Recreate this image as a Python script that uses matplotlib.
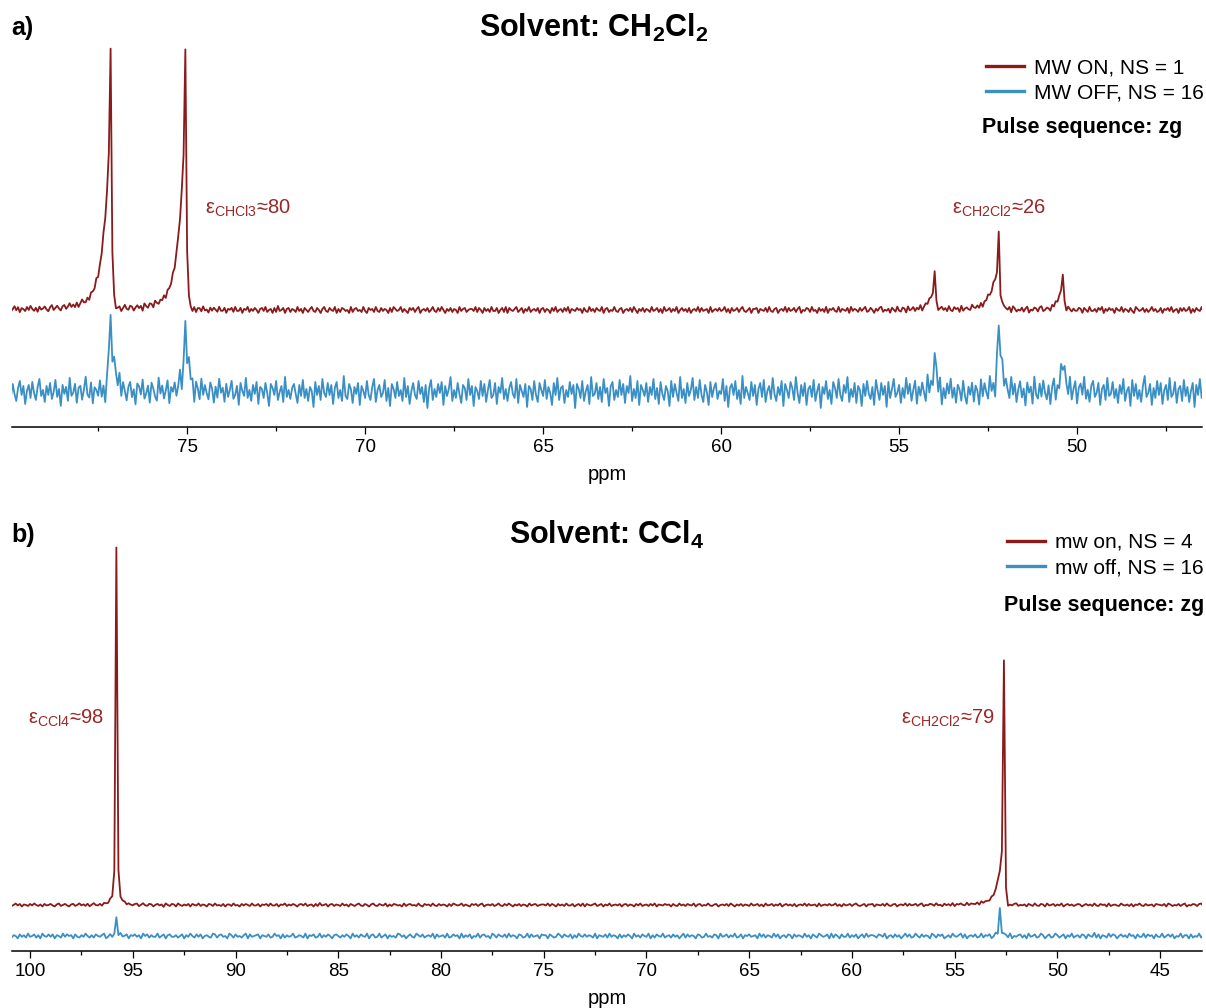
import numpy as np
import matplotlib
matplotlib.use("Agg")
import matplotlib.pyplot as plt
from matplotlib.ticker import MultipleLocator
from matplotlib.lines import Line2D

plt.rcParams['font.family'] = ['Liberation Sans', 'DejaVu Sans']
plt.rcParams['mathtext.default'] = 'regular'

RED = '#8b1a1a'
BLUE = '#3a8fc5'
LABEL_RED = '#9a2828'

# ---------------- spectral data ----------------
# digital resolution (ppm per point) and first point of each acquisition
step_a, start_a = 0.05, 80.0
step_b, start_b = 0.10, 101.0

# (a) CH2Cl2, MW ON: centre (ppm), height (a.u.), left / right half-widths (ppm)
red_a_centers = [77.15, 77.22, 77.00, 75.05, 75.12, 74.90, 54.00, 54.08, 52.20, 52.28, 50.40, 50.48]
red_a_heights = [240, 95, -7, 240, 95, -6, 34, 12, 70, 26, 34, 12]
red_a_wl = [0.035, 0.20, 0.06, 0.035, 0.20, 0.06, 0.03, 0.12, 0.03, 0.20, 0.03, 0.12]
red_a_wr = [0.025, 0.04, 0.10, 0.025, 0.04, 0.10, 0.025, 0.04, 0.025, 0.05, 0.025, 0.04]

# (a) CH2Cl2, MW OFF
blue_a_centers = [77.15, 77.05, 75.05, 74.95, 54.00, 52.20, 52.10, 50.40]
blue_a_heights = [75, 20, 72, 15, 38, 70, 12, 38]
blue_a_wl = [0.04, 0.05, 0.04, 0.05, 0.04, 0.04, 0.05, 0.05]
blue_a_wr = [0.04, 0.08, 0.04, 0.08, 0.04, 0.04, 0.08, 0.05]

# (b) CCl4, mw on
red_b_centers = [95.80, 95.80, 52.60, 52.70, 52.45]
red_b_heights = [350, 8, 238, 35, -6]
red_b_wl = [0.03, 0.12, 0.03, 0.25, 0.08]
red_b_wr = [0.03, 0.12, 0.03, 0.05, 0.15]

# (b) CCl4, mw off
blue_b_centers = [95.80, 52.80]
blue_b_heights = [18, 28]
blue_b_wl = [0.04, 0.04]
blue_b_wr = [0.04, 0.04]

# baseline noise of the MW-OFF CH2Cl2 acquisition (a.u.)
noise_blue_a = np.array([
    3, -5, 8, -2, -9, 4, 11, -3, 6, -12, 1, 7, -6, 10, -1, -8, 5, 13, -4, 2,
    -10, 6, -3, 9, -7, 0, 12, -5, 3, -14, 7, -2, 5, -9, 14, -4, -1, 8, -11, 4,
    6, -8, 2, 15, -3, -6, 9, -12, 4, 1, -5, 10, -7, 3, -16, 6, 11, -2, -9, 5,
    0, -4, 13, -8, 7, -1, -10, 4, 9, -6, 2, -13, 8, 5, -3, 12, -7, -2, 6, -11,
    9, 3, -5, -9, 14, -2, 6, -7, 1, 11, -12, 4, -1, 8, -6, 3, 17, -8, 2, -4,
    -7, 10, -3, 5, -15, 7, 1, -9, 12, -4, 6, -2, -8, 9, 3, -11, 5, -6, 13, -1,
    4, -10, 8, -5, 2, 11, -7, -3, 6, -13, 9, 1, -4, 14, -6, 2, -9, 7, -2, 10,
    -12, 5, 3, -6, 9, -1, -14, 8, 4, -3, 11, -8, 0, 6, -10, 15, -5, 2, -7, 4,
    8, -2, -11, 7, -4, 12, -6, 3, -9, 5, 1, -15, 10, -3, 6, -8, 13, -1, -5, 9,
    -3, 7, -12, 4, 10, -6, 2, -9, 16, -4, -7, 8, 3, -11, 5, -2, 9, -13, 6, 1,
    -6, 11, -3, -8, 5, 13, -10, 2, 7, -5, -1, 12, -9, 4, -14, 8, 3, -6, 10, -4,
    2, -9, 14, -5, 6, -12, 1, 9, -3, -7, 11, -2, 5, -10, 7, -16, 4, 12, -8, 3,
    -5, 8, -1, 10, -13, 6, -4, 3, 15, -9, 2, -6, 9, -2, -11, 7, 4, -8, 13, -3,
    6, -14, 5, 1, -7, 11, -4, 8, -10, 2, 12, -6, -3, 9, -12, 5, -1, 14, -7, 3,
    -9, 4, 10, -2, -6, 13, -11, 7, 1, -5, 8, -15, 6, 3, -8, 11, -3, -10, 9, 2,
    -4, 12, -7, 5, -1, -13, 9, -3, 14, -8, 4, 6, -11, 2, -5, 10, -2, 7, -16, 8,
    3, -6, 11, -9, 1, 7, -12, 15, -4, -2, 9, -7, 5, -10, 13, -1, 4, -14, 6, 10,
    -8, 2, -5, 12, -3, 8, -11, 6, -1, 16, -9, 3, -6, 11, -13, 7, 2, -4, 9, -10,
    5, -3, 13, -7, 4, -12, 10, -2, -8, 6, 1, -14, 11, -5, 8, -1, -9, 15, -6, 3,
    -11, 9, -4, 2, 14, -8, 5, -6, 12, -3, -10, 7, 0, -13, 10, -5, 4, 9, -7, 1,
    -2, 13, -9, 6, -15, 4, 8, -3, 11, -7, 2, -12, 16, -6, 5, -1, -8, 10, -4, 7,
    -13, 3, 9, -5, 12, -10, 1, 6, -7, 14, -2, -9, 5, -3, 11, -14, 8, 2, -6, 10,
    4, -8, 15, -1, -11, 7, -4, 9, -13, 3, 6, -5, 12, -9, 1, 8, -16, 5, -2, 11,
    -7, 2, -12, 10, 4, -6, 13, -3, -9, 7, -1, 15, -10, 3, -5, 9, -11, 6, 2, -14,
    8, -4, 11, -2, -7, 5, -13, 12, 1, -8, 9, -3, 6, -15, 10, -6, 3, 13, -5, -1,
    7, -11, 4, -6, 14, -2, 8, -9, 2, 11, -12, 5, -4, 9, -1, -10, 16, -3, 6, -8,
    1, 10, -5, 12, -14, 3, -7, 8, -2, 13, -6, 4, -11, 7, 2, -9, 11, -4, -12, 5,
    -3, 9, -10, 6, 1, -13, 12, -5, 8, -1, -8, 14, -2, 4, -15, 10, -6, 3, 11, -7,
    6, -2, -9, 13, -4, 7, -11, 2, 10, -6, 3, -14, 9, -1, 5, -12, 15, -3, -7, 8,
    -5, 11, -1, -8, 6, -13, 4, 12, -10, 3, -4, 9, -16, 7, 1, -6, 13, -9, 2, 10,
    -12, 4, 8, -3, 15, -7, 2, -10, 6, 11, -5, -1, 9, -13, 3, 7, -8, 14, -4, -2,
    10, -6, 3, -11, 7, -2, 13, -9, 1, 5, -14, 12, -4, 8, -7, 2, -10, 6, 16, -5,
    -1, 8, -13, 4, -6, 11, -3, 9, -12, 2, 7, -8, 14, -5, -2, 10, -11, 3, 6, -9,
    12, -4, 5, -10, 1, 9, -15, 7, -3, 13, -6, 2, -9, 11, -1, -7, 4, 15, -12, 6,
], dtype=float)

# low-level baseline noise of the MW-ON / CCl4 acquisitions (a.u.)
noise_fine = np.array([
    1, -2, 0, 3, -1, 2, -3, 1, 0, -2, 2, -1, 3, 0, -2, 1, -3, 2, -1, 0,
    2, -1, -3, 1, 3, -2, 0, 2, -1, -3, 1, 2, -2, 0, 3, -1, 1, -2, 2, -3,
    0, 3, -1, -2, 1, -3, 2, 0, -1, 4, -2, 1, -1, 3, -3, 0, 2, -2, 1, -1,
    -2, 1, 2, -3, 0, 3, -1, -2, 2, 1, -3, 0, 2, -1, 1, -4, 3, 0, -2, 2,
    1, -3, 3, 0, -2, 1, -1, 2, -3, 2, 0, -1, 3, -2, 1, 0, -3, 2, 1, -2,
    3, -1, 0, -2, 2, -3, 1, 1, -2, 3, -1, 0, -3, 2, -1, 2, 0, -2, 3, -1,
    -1, 2, -3, 1, 0, 2, -2, 3, -1, -1, 2, -3, 1, 0, 3, -2, 1, -1, 2, 0,
    -3, 1, 2, -1, 3, -2, 0, 1, -3, 2, -2, 4, -1, 0, 2, -3, 1, 2, -2, 1,
    0, -2, 3, -1, 1, -3, 2, 0, -2, 1, 3, -1, -2, 2, 0, -3, 1, 3, -1, -2,
    2, 0, -1, 3, -3, 1, -2, 2, 1, -1, 0, -3, 3, -2, 1, 2, -1, 0, -2, 3,
    -1, -3, 2, 0, 1, -2, 3, -1, -2, 2, -1, 1, 0, -3, 2, -2, 3, 1, -1, 0,
    3, -2, 1, -1, -3, 2, 0, 2, -2, 1, 3, -3, 0, 1, -1, 2, -2, 0, 3, -1,
    -2, 2, -1, 3, 0, -3, 1, -1, 2, -2, 1, 0, -3, 3, -1, 1, 2, -2, 0, 1,
    1, -1, 3, -2, 2, 0, -3, 2, -1, 1, -2, 3, -1, -1, 2, -3, 0, 2, -2, 3,
    -3, 2, 0, -1, 1, 3, -2, 0, 2, -3, 1, -1, 3, -2, 0, 1, -1, 2, -3, 1,
    2, -2, 1, 0, -3, 2, -1, 3, -2, 0, 1, -2, 2, -1, 3, -3, 1, 0, -1, 2,
    0, 1, -3, 2, -1, -2, 3, -1, 1, -2, 2, 0, -1, 3, -3, 1, 2, -2, 0, -1,
    3, -1, -2, 1, 2, -3, 0, 1, -1, 2, -2, 3, 0, -3, 1, -1, 2, -2, 1, 0,
    -2, 3, -1, 0, 2, -2, 1, -3, 3, -1, 0, 2, -2, 1, -1, 3, -3, 0, 2, -1,
    1, -2, 2, -3, 0, 1, -1, 3, -2, 2, -1, 0, 1, -3, 3, -2, 0, 1, -1, 2,
    -1, 0, 3, -2, 1, -3, 2, -1, 0, 2, -2, 1, 3, -1, -2, 0, 2, -3, 1, 1,
    2, -3, 1, 0, -1, 2, -2, 3, -1, -2, 1, 2, -3, 0, 1, -1, 3, -2, 2, -1,
    0, 2, -2, 1, 3, -3, 0, -1, 2, 1, -2, 3, -1, 0, -3, 2, -1, 1, -2, 3,
    -3, 1, 0, 2, -1, -2, 3, -2, 1, 0, -1, 2, -3, 3, -1, 1, 0, -2, 2, -1,
    1, 3, -2, -1, 2, 0, -3, 1, -1, 2, 3, -2, 0, -1, 1, -3, 2, 0, -2, 3,
    -1, -2, 2, 1, -3, 3, -1, 0, 2, -2, 1, -1, 3, -3, 0, 2, -1, 1, -2, 0,
    2, 1, -3, 0, 2, -1, 1, -2, 3, -1, -2, 2, 0, 1, -3, 3, -2, 0, 1, -1,
    -2, 3, 0, -1, 1, -2, 2, -3, 1, 0, 3, -1, -2, 2, -1, 0, 1, -3, 2, 1,
    0, -1, 2, -3, 3, 1, -2, 0, -1, 2, -2, 1, 3, -3, 0, -1, 2, 1, -2, 2,
    3, -2, -1, 1, 0, -3, 2, -1, 2, -2, 0, 3, -1, 1, -3, 2, 0, -2, 1, -1,
    -1, 2, 1, -3, 2, 0, -2, 3, -1, -1, 1, -2, 2, 0, 3, -3, 1, -1, 2, 0,
    1, -3, 2, 0, -1, 3, -2, 1, 0, -2, 2, -1, -3, 3, 1, -1, 0, 2, -2, 1,
    -2, 0, 3, -1, 1, -2, -1, 2, -3, 1, 0, 2, -1, 3, -2, 0, 1, -3, 2, -1,
    2, -1, 0, 3, -3, 1, -2, 2, 0, -1, 3, -2, 1, -1, 2, -3, 0, 1, -2, 2,
], dtype=float)

n_b = 582  # points in the CCl4 acquisitions

# vertical stacking of the two traces in each panel (a.u.)
offset_a = 82
offset_b = 31

# ---------------- helpers ----------------
def line_shape(ppm, centers, heights, wl, wr):
    """Sum of asymmetric Lorentzian lines (wl: half-width towards higher ppm)."""
    y = np.zeros_like(ppm)
    for c, h, a, b in zip(centers, heights, wl, wr):
        w = np.where(ppm >= c, a, b)
        y += h / (1.0 + ((ppm - c) / w) ** 2)
    return y


def ppm_axis(start, step, n):
    return start - step * np.arange(n)


W, H = 1206, 1008
fig = plt.figure(figsize=(W / 100, H / 100), dpi=100)


def px_axes(left, top, right, bottom):
    return fig.add_axes([left / W, 1 - bottom / H, (right - left) / W, (bottom - top) / H])


def style_axis(ax, xlim, ylim):
    ax.set_xlim(*xlim)
    ax.set_ylim(*ylim)
    for s in ('left', 'right', 'top'):
        ax.spines[s].set_visible(False)
    ax.spines['bottom'].set_linewidth(1.1)
    ax.yaxis.set_visible(False)
    ax.xaxis.set_major_locator(MultipleLocator(5))
    ax.xaxis.set_minor_locator(MultipleLocator(2.5))
    ax.tick_params(axis='x', which='major', length=5, width=0.9, pad=4, labelsize=13.5)
    ax.tick_params(axis='x', which='minor', length=3, width=0.9)
    ax.set_xlabel('ppm', fontsize=14.5, labelpad=6)
    ax.patch.set_visible(False)


LEG_KW = dict(loc='upper right', bbox_transform=fig.transFigure, frameon=False, fontsize=15,
              handlelength=1.8, handletextpad=0.5, labelspacing=0.3, borderpad=0, borderaxespad=0)

# ---------------- panel a: CH2Cl2 ----------------
ax_a = px_axes(12, 20, 1202, 427)
ppm_a = ppm_axis(start_a, step_a, len(noise_blue_a))
ppm_ar = ppm_axis(start_a, step_a, len(noise_fine))
blue_a = line_shape(ppm_a, blue_a_centers, blue_a_heights, blue_a_wl, blue_a_wr) + noise_blue_a
red_a = line_shape(ppm_ar, red_a_centers, red_a_heights, red_a_wl, red_a_wr) + noise_fine + offset_a
ax_a.plot(ppm_a, blue_a, color=BLUE, lw=1.3)
ax_a.plot(ppm_ar, red_a, color=RED, lw=1.3)
style_axis(ax_a, (79.92, 46.49), (-35, 372))

ax_a.text(74.49, 184, r'ε$_{CHCl3}$≈80', color=LABEL_RED, fontsize=14.5, ha='left', va='center')
ax_a.text(53.51, 184, r'ε$_{CH2Cl2}$≈26', color=LABEL_RED, fontsize=14.5, ha='left', va='center')

ax_a.legend(handles=[Line2D([], [], color=RED, lw=2.4), Line2D([], [], color=BLUE, lw=2.4)],
            labels=['MW ON, NS = 1', 'MW OFF, NS = 16'],
            bbox_to_anchor=(1204 / W, 1 - 58 / H), **LEG_KW)
fig.text(982 / W, 1 - 128 / H, 'Pulse sequence: zg', fontsize=15.5, fontweight='bold', va='center')

fig.text(11 / W, 1 - 28 / H, 'a)', fontsize=18, fontweight='bold', va='center', ha='left')
fig.text(594 / W, 1 - 28 / H, 'Solvent: CH$_2$Cl$_2$', fontsize=22, fontweight='bold',
         va='center', ha='center')

# ---------------- panel b: CCl4 ----------------
ax_b = px_axes(12, 525, 1202, 951)
nz_red_b = noise_fine[:n_b] * 0.5
nz_blue_b = noise_fine[::-1][:n_b] * 0.8
ppm_b = ppm_axis(start_b, step_b, n_b)
blue_b = line_shape(ppm_b, blue_b_centers, blue_b_heights, blue_b_wl, blue_b_wr) + nz_blue_b
red_b = line_shape(ppm_b, red_b_centers, red_b_heights, red_b_wl, red_b_wr) + nz_red_b + offset_b
ax_b.plot(ppm_b, blue_b, color=BLUE, lw=1.3)
ax_b.plot(ppm_b, red_b, color=RED, lw=1.3)
style_axis(ax_b, (100.88, 42.96), (-15, 411))

ax_b.text(100.1, 218, r'ε$_{CCl4}$≈98', color=LABEL_RED, fontsize=14.5, ha='left', va='center')
ax_b.text(57.62, 218, r'ε$_{CH2Cl2}$≈79', color=LABEL_RED, fontsize=14.5, ha='left', va='center')

ax_b.legend(handles=[Line2D([], [], color=RED, lw=2.4), Line2D([], [], color=BLUE, lw=2.4)],
            labels=['mw on, NS = 4', 'mw off, NS = 16'],
            bbox_to_anchor=(1204 / W, 1 - 533 / H), **LEG_KW)
fig.text(1004 / W, 1 - 605 / H, 'Pulse sequence: zg', fontsize=15.5, fontweight='bold', va='center')

fig.text(11 / W, 1 - 535 / H, 'b)', fontsize=18, fontweight='bold', va='center', ha='left')
fig.text(607 / W, 1 - 535 / H, 'Solvent: CCl$_4$', fontsize=22, fontweight='bold',
         va='center', ha='center')

fig.savefig('out.png', dpi=100)
